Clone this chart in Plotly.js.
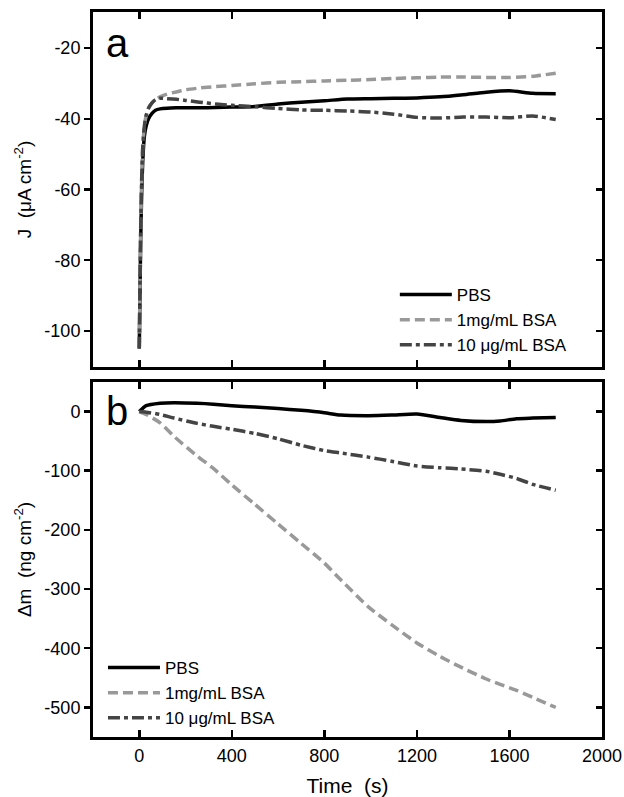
<!DOCTYPE html>
<html><head><meta charset="utf-8">
<script src="https://cdn.plot.ly/plotly-3.0.1.min.js"></script>
<style>body{margin:0;background:#fff}#chart{width:624px;height:797px}</style>
</head><body><div id="chart"></div>
<script>
// ---- Panel a: current density J (µA cm^-2) vs time (s)
const timeTop = [0, 3, 6, 10, 15, 22, 30, 40, 55, 70, 90, 120, 160, 200, 260, 330, 400, 500, 600, 700, 800, 900, 1000, 1100, 1200, 1300, 1400, 1500, 1600, 1700, 1800];
const jPBS   = [-105, -90, -75, -62, -52, -45, -42, -40, -38.5, -37.6, -37.2, -37.0, -36.9, -36.9, -36.9, -36.8, -36.7, -36.5, -35.8, -35.3, -34.9, -34.4, -34.3, -34.2, -34.1, -33.8, -33.2, -32.5, -32.1, -32.8, -32.9];
const jBSA1mg = [-105, -88, -72, -58, -48, -42, -39, -37, -35.5, -34.6, -33.8, -33.0, -32.4, -31.8, -31.3, -30.9, -30.6, -30.1, -29.7, -29.5, -29.3, -29.1, -28.9, -28.6, -28.4, -28.2, -28.2, -28.3, -28.3, -28.0, -27.1];
const jBSA10ug = [-105, -88, -72, -58, -48, -42, -39, -37, -35.5, -34.6, -34.2, -34.3, -34.5, -34.8, -35.3, -35.8, -36.2, -36.6, -37.1, -37.5, -37.6, -37.8, -38.1, -38.7, -39.6, -39.8, -39.5, -39.5, -39.7, -39.2, -40.2];

// ---- Panel b: mass change Δm (ng cm^-2) vs time (s)
const timeBottom = [0, 30, 90, 150, 250, 320, 400, 500, 600, 700, 800, 870, 990, 1090, 1200, 1300, 1390, 1500, 1560, 1630, 1700, 1800];
const dmPBS    = [0, 10, 14, 15, 14, 12.5, 10, 7.5, 5, 2, -2, -6, -7, -6, -4, -10, -15, -17, -16, -12, -11, -10];
const dmBSA1mg = [0, -5, -19, -42, -75, -96, -124, -157, -190, -223, -256, -284, -330, -360, -391, -414, -432, -452, -461, -471, -483, -500];
const dmBSA10ug = [0, -1, -5, -11, -20, -25, -30, -37, -46, -57, -66, -70, -77, -84, -92, -95, -97, -101, -106, -113, -123, -133];

// ---- labels and ticks
const seriesNames = ['PBS', '1mg/mL BSA', '10 \u03bcg/mL BSA'];
const xTickVals = [0, 400, 800, 1200, 1600, 2000];
const xTickText = ['0', '400', '800', '1200', '1600', '2000'];
const jTickVals = [-100, -80, -60, -40, -20];
const jTickText = ['-100', '-80', '-60', '-40', '-20'];
const dmTickVals = [-500, -400, -300, -200, -100, 0];
const dmTickText = ['-500', '-400', '-300', '-200', '-100', '0'];

const FONT = 'Liberation Sans, Arial, Helvetica, sans-serif';
const styles = [
  {color: '#000000', width: 3.5, dash: 'solid'},
  {color: '#999999', width: 3.5, dash: '10px,5px'},
  {color: '#444444', width: 3.5, dash: '12px,4px,4px,4px'}
];

const topY = [jPBS, jBSA1mg, jBSA10ug];
const botY = [dmPBS, dmBSA1mg, dmBSA10ug];
const traces = [];
topY.forEach((ys, i) => traces.push({
  x: timeTop, y: ys, type: 'scatter', mode: 'lines', name: seriesNames[i],
  line: Object.assign({shape: 'spline', smoothing: 0.6}, styles[i]), xaxis: 'x', yaxis: 'y', legend: 'legend'
}));
botY.forEach((ys, i) => traces.push({
  x: timeBottom, y: ys, type: 'scatter', mode: 'lines', name: seriesNames[i],
  line: Object.assign({shape: 'spline', smoothing: 0.6}, styles[i]), xaxis: 'x2', yaxis: 'y2', legend: 'legend2'
}));
// empty helper traces so the right-hand (inside-tick) axes are always created
traces.push({x: [null], y: [null], type: 'scatter', mode: 'lines', xaxis: 'x', yaxis: 'y3', showlegend: false, hoverinfo: 'skip'});
traces.push({x: [null], y: [null], type: 'scatter', mode: 'lines', xaxis: 'x2', yaxis: 'y4', showlegend: false, hoverinfo: 'skip'});

const common = {showgrid: false, zeroline: false, showline: true, linecolor: '#000', linewidth: 3,
  tickcolor: '#000', tickwidth: 2.5, tickfont: {family: FONT, size: 18, color: '#000'}};

const xRange = [-200, 2000];
const jRange = [-110.2, -9.8];
const dmRange = [-550, 50];

const layout = {
  width: 624, height: 797,
  margin: {l: 93, r: 22, t: 12, b: 60},
  paper_bgcolor: '#fff', plot_bgcolor: '#fff',
  font: {family: FONT, color: '#000'},
  showlegend: true,
  xaxis: Object.assign({}, common, {domain: [0, 1], anchor: 'y', range: xRange, tickmode: 'array',
    tickvals: xTickVals, ticktext: xTickText, showticklabels: false, ticks: 'inside', ticklen: 7, mirror: 'ticks'}),
  yaxis: Object.assign({}, common, {domain: [0.5103, 1], anchor: 'x', range: jRange, tickmode: 'array',
    tickvals: jTickVals, ticktext: jTickText, ticks: 'outside', ticklen: 6, mirror: true,
    title: {text: 'J\u00a0 (\u03bcA cm<sup>-2</sup>)', font: {family: FONT, size: 19, color: '#000'}, standoff: 8}}),
  yaxis3: Object.assign({}, common, {overlaying: 'y', side: 'right', anchor: 'x', range: jRange, tickmode: 'array',
    tickvals: jTickVals, showticklabels: false, ticks: 'inside', ticklen: 6, showline: false}),
  xaxis2: Object.assign({}, common, {domain: [0, 1], anchor: 'y2', range: xRange, tickmode: 'array',
    tickvals: xTickVals, ticktext: xTickText, ticks: 'inside', ticklen: 7, mirror: 'ticks',
    title: {text: 'Time\u00a0 (s)', font: {family: FONT, size: 21, color: '#000'}, standoff: 16}}),
  yaxis2: Object.assign({}, common, {domain: [0, 0.4897], anchor: 'x2', range: dmRange, tickmode: 'array',
    tickvals: dmTickVals, ticktext: dmTickText, ticks: 'outside', ticklen: 6, mirror: true,
    title: {text: '\u0394m\u00a0 (ng cm<sup>-2</sup>)', font: {family: FONT, size: 19, color: '#000'}, standoff: 8}}),
  yaxis4: Object.assign({}, common, {overlaying: 'y2', side: 'right', anchor: 'x2', range: dmRange, tickmode: 'array',
    tickvals: dmTickVals, showticklabels: false, ticks: 'inside', ticklen: 6, showline: false}),
  legend: {x: 0.593, y: 0.6345, xanchor: 'left', yanchor: 'top', bgcolor: 'rgba(0,0,0,0)', borderwidth: 0,
    font: {family: FONT, size: 17, color: '#000'}, itemwidth: 52, tracegroupgap: 0},
  legend2: {x: 0.0196, y: 0.12, xanchor: 'left', yanchor: 'top', bgcolor: 'rgba(0,0,0,0)', borderwidth: 0,
    font: {family: FONT, size: 17, color: '#000'}, itemwidth: 52, tracegroupgap: 0},
  annotations: [
    {text: 'a', xref: 'paper', yref: 'paper', x: 0.022, y: 0.957, xanchor: 'left', yanchor: 'middle',
      showarrow: false, font: {family: FONT, size: 40, color: '#000'}},
    {text: 'b', xref: 'paper', yref: 'paper', x: 0.022, y: 0.4497, xanchor: 'left', yanchor: 'middle',
      showarrow: false, font: {family: FONT, size: 40, color: '#000'}}
  ]
};

Plotly.newPlot('chart', traces, layout, {displayModeBar: false, staticPlot: true});
</script>
</body></html>
